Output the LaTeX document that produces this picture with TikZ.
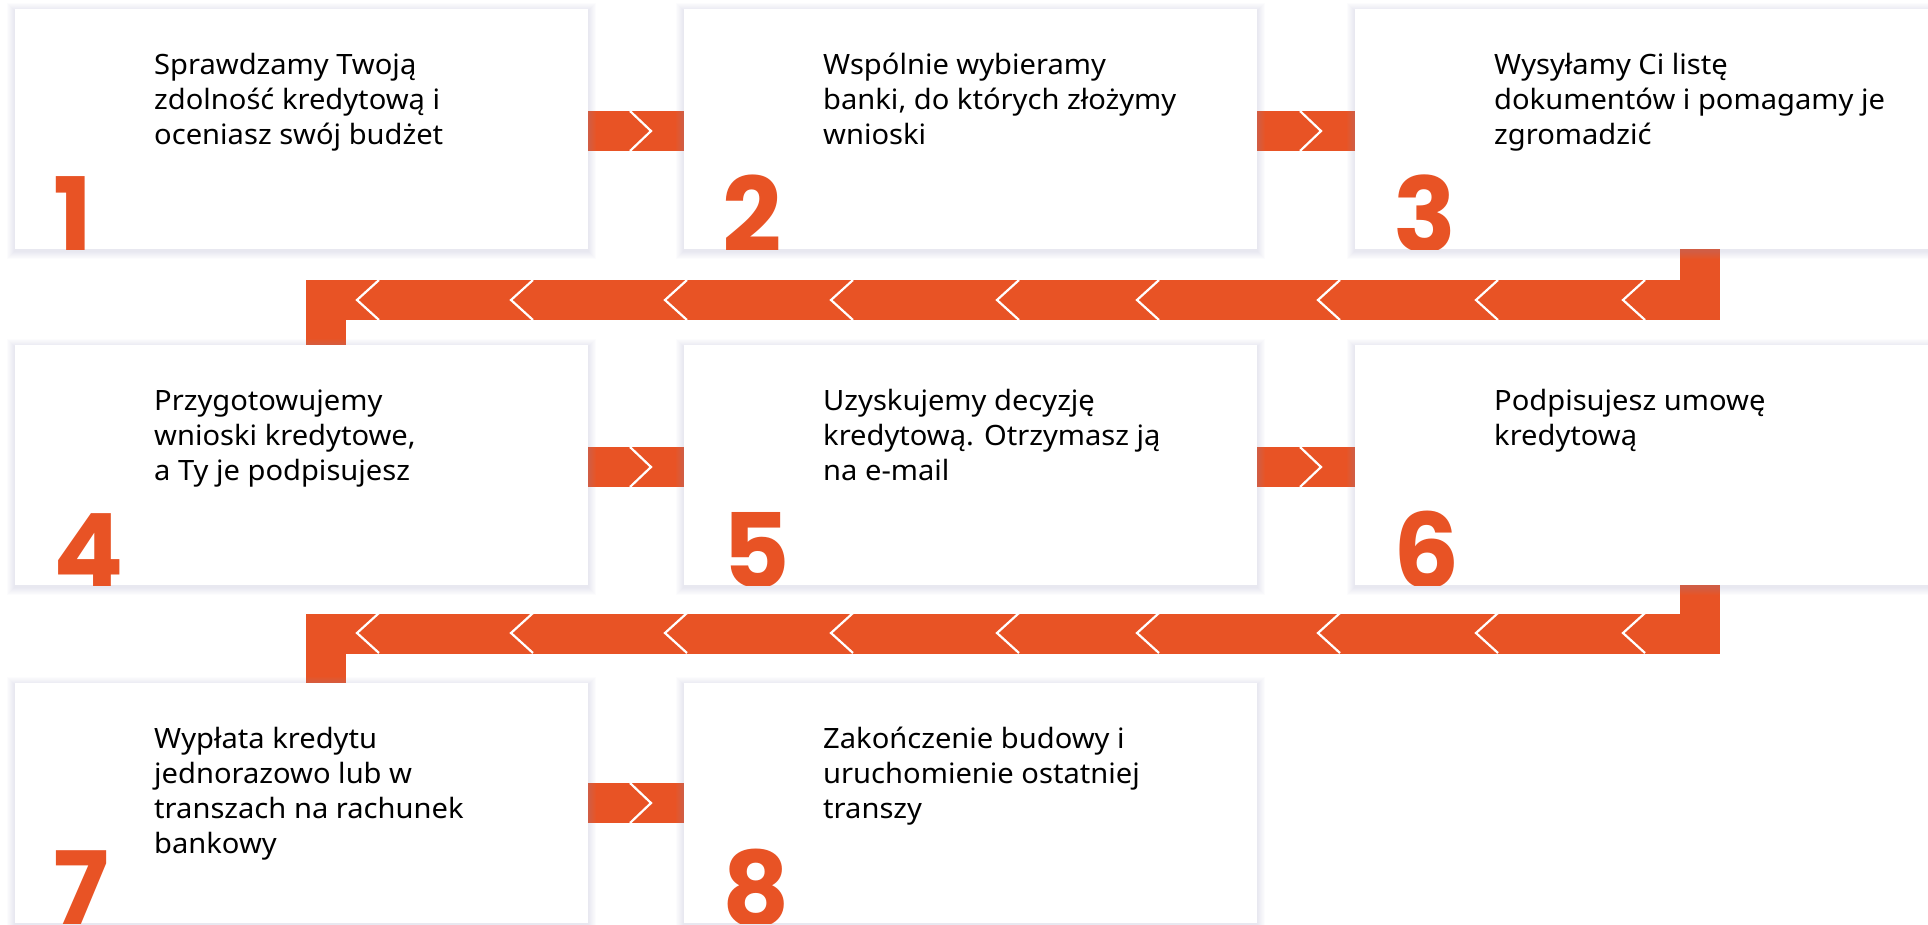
\documentclass[tikz,border=0pt]{standalone}
\usepackage{fontspec}
\setmainfont{Noto Sans}[FakeStretch=1.04]
\newfontfamily\numfont{Poppins}
\definecolor{orng}{RGB}{232,83,37}
\definecolor{shcol}{RGB}{150,150,190}
\pgfdeclarelayer{bandl}
\pgfdeclarelayer{shad}
\pgfsetlayers{bandl,shad,main}
\tikzset{
  stepbox/.style={fill=white, minimum width=573pt, minimum height=240pt, inner sep=0pt, draw=none},
  steptext/.style={anchor=north west, inner sep=0pt, align=left, font=\fontsize{28}{35}\selectfont, text=black},
  stepnum/.style={anchor=base west, inner sep=0pt, font=\numfont\bfseries\fontsize{104}{104}\selectfont, text=orng},
  band/.style={draw=orng, line width=40pt, line join=miter},
  chev/.style={draw=white, line width=2.2pt},
}
\newcommand{\fs}{\rule{0pt}{24pt}}
\begin{document}
\begin{tikzpicture}[x=1pt,y=-1pt]
\useasboundingbox (0,0) rectangle (1928,924);
% boxes
\node[stepbox] (b1) at (301.5,129) {};
\node[stepbox] (b2) at (970.5,129) {};
\node[stepbox] (b3) at (1641.5,129) {};
\node[stepbox] (b4) at (301.5,465) {};
\node[stepbox] (b5) at (970.5,465) {};
\node[stepbox] (b6) at (1641.5,465) {};
\node[stepbox] (b7) at (301.5,803) {};
\node[stepbox] (b8) at (970.5,803) {};
% texts
\node[steptext] (t1) at (154,50.5) {\fs Sprawdzamy Twoją\\zdolność kredytową i\\oceniasz swój budżet};
\node[steptext] (t2) at (823,50.5) {\fs Wspólnie wybieramy\\banki, do których złożymy\\wnioski};
\node[steptext] (t3) at (1494,50.5) {\fs Wysyłamy Ci listę\\dokumentów i pomagamy je\\zgromadzić};
\node[steptext] (t4) at (154,386.5) {\fs Przygotowujemy\\wnioski kredytowe,\\a Ty je podpisujesz};
\node[steptext] (t5) at (823,386.5) {\fs Uzyskujemy decyzję\\kredytową. Otrzymasz ją\\na e-mail};
\node[steptext] (t6) at (1494,386.5) {\fs Podpisujesz umowę\\kredytową};
\node[steptext] (t7) at (154,724.5) {\fs Wypłata kredytu\\jednorazowo lub w\\transzach na rachunek\\bankowy};
\node[steptext] (t8) at (823,724.5) {\fs Zakończenie budowy i\\uruchomienie ostatniej\\transzy};
% numbers, clipped to their boxes
\foreach \b/\n/\x/\y in {b1/1/53/252, b2/2/722/252, b3/3/1393/252, b4/4/53/588, b5/5/722/588, b6/6/1393/588, b7/7/53/926, b8/8/722/926}{
  \begin{scope}
    \clip (\b.south west) rectangle (\b.north east);
    \node[stepnum] (d\n) at (\x,\y) {\n};
  \end{scope}
}
% shadows
\begin{pgfonlayer}{shad}
\foreach \b in {b1,b2,b3,b4,b5,b6,b7,b8}{
  \foreach \i in {1,...,8}{
    \fill[shcol, opacity=0.03] ([xshift=-\i pt, yshift={-(\i+2)*1pt}]\b.south west) rectangle ([xshift=\i pt, yshift={(\i-2)*1pt}]\b.north east);
  }
}
\end{pgfonlayer}
% bands
\begin{pgfonlayer}{bandl}
\draw[band] ([yshift=-2pt]b1.east) -- ([yshift=-2pt]b2.west);
\draw[band] ([yshift=-2pt]b2.east) -- ([yshift=-2pt]b3.west);
\draw[band] ([yshift=-2pt]b4.east) -- ([yshift=-2pt]b5.west);
\draw[band] ([yshift=-2pt]b5.east) -- ([yshift=-2pt]b6.west);
\draw[band] (b7.east) -- (b8.west);
\draw[band] ([xshift=58pt]b3.south) -- ++(0,51) -| ([xshift=24.5pt]b4.north);
\draw[band] ([xshift=58pt]b6.south) -- ++(0,49) -| ([xshift=24.5pt]b7.north);
% chevrons
\foreach \cx/\cy in {630/131, 1300/131, 630/467, 1300/467, 630/803}{
  \draw[chev] (\cx,\cy-20) -- (\cx+21,\cy) -- (\cx,\cy+20);
}
\foreach \t in {357,511,665,831,997,1137,1318,1476,1623}{
  \draw[chev] (\t+22,280) -- (\t,300) -- (\t+22,320);
  \draw[chev] (\t+22,613) -- (\t,633) -- (\t+22,653);
}
\end{pgfonlayer}
\end{tikzpicture}
\end{document}
